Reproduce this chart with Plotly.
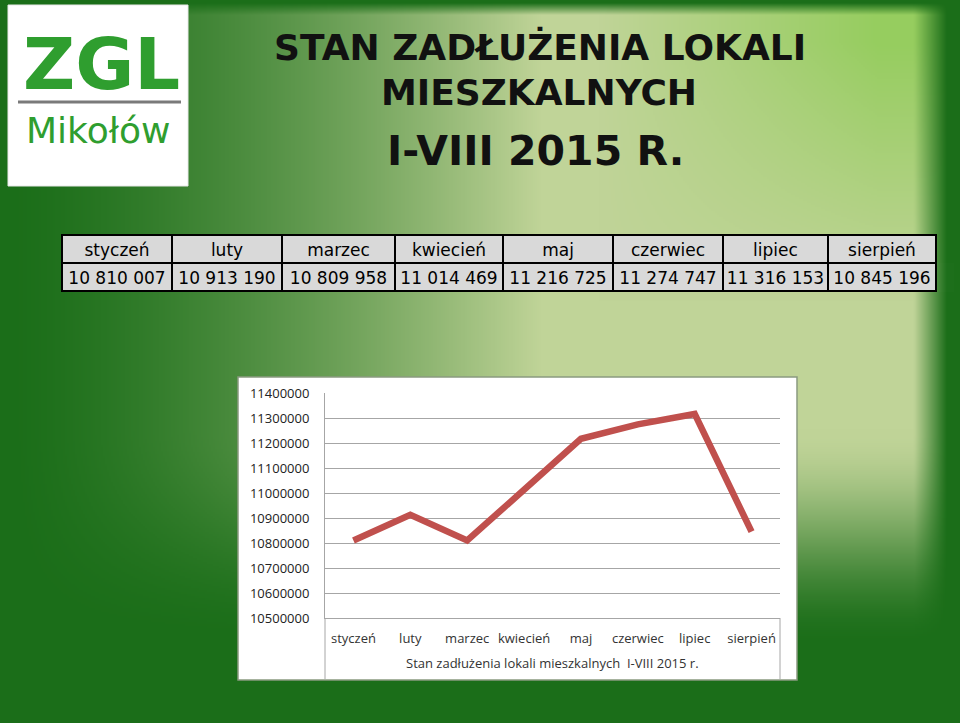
import base64, struct, zlib
import numpy as np
import plotly.graph_objects as go

# ---------------- data ----------------
months = ["styczeń", "luty", "marzec", "kwiecień", "maj", "czerwiec", "lipiec", "sierpień"]
debt = [10810007, 10913190, 10809958, 11014469, 11216725, 11274747, 11316153, 10845196]
debt_labels = ["10 810 007", "10 913 190", "10 809 958", "11 014 469",
               "11 216 725", "11 274 747", "11 316 153", "10 845 196"]
y_ticks = [10500000, 10600000, 10700000, 10800000, 10900000,
           11000000, 11100000, 11200000, 11300000, 11400000]
title_lines = ["STAN ZADŁUŻENIA LOKALI", "MIESZKALNYCH", "I-VIII 2015 R."]
series_name = "Stan zadłużenia lokali mieszkalnych  I-VIII 2015 r."

W, H = 960, 723


def px(x):
    return x / W


def py(y):
    return 1 - y / H


# ---------------- background gradient image ----------------
def make_background(w=480, h=362):
    xs = np.linspace(0, W, w)[None, :]
    ys = np.linspace(0, H, h)[:, None]
    dark = np.array([27, 110, 25], float)
    pale = np.array([192, 212, 152], float)
    lime = np.array([150, 205, 95], float)
    wh = np.clip(xs / 540.0, 0, 1) ** 1.5
    wh = np.where(xs > 915, wh * np.clip((948 - xs) / 33.0, 0, 1), wh)
    wv = np.clip((650 - ys) / 220.0, 0, 1)
    wv = wv * wv * (3 - 2 * wv)
    wv = wv * np.clip((ys - 2) / 12.0, 0, 1)
    t = np.clip((xs - 600) / 280.0, 0, 1) * np.clip(1 - (ys - 40) / 260.0, 0, 1)
    target = pale[None, None, :] * (1 - t[..., None]) + lime[None, None, :] * t[..., None]
    wgt = (wh * wv)[..., None]
    img = dark[None, None, :] * (1 - wgt) + target * wgt
    return np.clip(img, 0, 255).astype(np.uint8)


def png_uri(arr):
    h, w, _ = arr.shape
    raw = b"".join(b"\x00" + arr[i].tobytes() for i in range(h))

    def chunk(tag, data):
        c = struct.pack(">I", len(data)) + tag + data
        return c + struct.pack(">I", zlib.crc32(tag + data) & 0xFFFFFFFF)

    png = (b"\x89PNG\r\n\x1a\n"
           + chunk(b"IHDR", struct.pack(">IIBBBBB", w, h, 8, 2, 0, 0, 0))
           + chunk(b"IDAT", zlib.compress(raw, 9))
           + chunk(b"IEND", b""))
    return "data:image/png;base64," + base64.b64encode(png).decode()


bg_uri = png_uri(make_background())

fig = go.Figure()

# ---------------- line chart ----------------
fig.add_trace(go.Scatter(
    x=months, y=debt, mode="lines",
    line=dict(color="#c0504d", width=6.5),
    hoverinfo="skip", showlegend=False,
))

# ---------------- table ----------------
nb = lambda s: s.replace(" ", "\u00a0")
fig.add_trace(go.Table(
    domain=dict(x=[px(62), px(936)], y=[py(292), py(235)]),
    columnwidth=[110, 110, 113, 108, 110, 110, 105, 108],
    header=dict(values=[nb(m) for m in months], fill_color="#d9d9d9",
                line=dict(color="black", width=1.5),
                font=dict(family="DejaVu Sans", size=17, color="black"),
                align="center", height=28),
    cells=dict(values=[[nb(v)] for v in debt_labels], fill_color="#d9d9d9",
               line=dict(color="black", width=1.5),
               font=dict(family="DejaVu Sans", size=17, color="black"),
               align="center", height=28),
))

grid_col = "#a6a6a6"
x0p, x1p = 325, 780
ytop, ybot, yend = 393, 618, 680

fig.update_layout(
    width=W, height=H,
    margin=dict(l=0, r=0, t=0, b=0, autoexpand=False),
    paper_bgcolor="#1b6e19",
    plot_bgcolor="rgba(0,0,0,0)",
    showlegend=False,
    xaxis=dict(domain=[px(x0p), px(x1p)], type="category",
               range=[-0.5, len(months) - 0.5],
               showgrid=False, zeroline=False, showline=True,
               linecolor=grid_col, linewidth=1,
               ticks="", ticklabelstandoff=8, automargin=False,
               tickfont=dict(family="Open Sans", size=13, color="#333333")),
    yaxis=dict(domain=[py(ybot), py(ytop)], range=[10500000, 11400000],
               tickvals=y_ticks, tickformat="d",
               showgrid=True, gridcolor=grid_col, gridwidth=1,
               zeroline=False, showline=True, linecolor=grid_col, linewidth=1,
               ticks="", ticklabelstandoff=12, automargin=False,
               tickfont=dict(family="Open Sans", size=13, color="#222222")),
    images=[dict(source=bg_uri, xref="paper", yref="paper", x=0, y=1,
                 sizex=1, sizey=1, xanchor="left", yanchor="top",
                 sizing="stretch", layer="below")],
)

shapes = []
shapes.append(dict(type="rect", xref="paper", yref="paper",
                   x0=px(238), x1=px(797), y0=py(680), y1=py(377),
                   fillcolor="white", line=dict(color="#8a9a80", width=1.5),
                   layer="below"))
shapes.append(dict(type="line", xref="paper", yref="paper",
                   x0=px(x0p), x1=px(x0p), y0=py(ybot), y1=py(yend - 1),
                   line=dict(color=grid_col, width=1)))
shapes.append(dict(type="line", xref="paper", yref="paper",
                   x0=px(x1p), x1=px(x1p), y0=py(ybot), y1=py(yend - 1),
                   line=dict(color=grid_col, width=1)))
shapes.append(dict(type="rect", xref="paper", yref="paper",
                   x0=px(8), x1=px(188), y0=py(186), y1=py(5),
                   fillcolor="white", line=dict(color="#e8e8e8", width=1),
                   layer="below"))
shapes.append(dict(type="line", xref="paper", yref="paper",
                   x0=px(18), x1=px(181), y0=py(102), y1=py(102),
                   line=dict(color="#7a7a7a", width=3)))
fig.update_layout(shapes=shapes)

ann = []
ann.append(dict(text="<b>ZGL</b>", x=px(101), y=py(64), xref="paper", yref="paper",
                showarrow=False, xanchor="center", yanchor="middle",
                font=dict(family="DejaVu Sans", size=72, color="#2f9e2f")))
ann.append(dict(text="Mikołów", x=px(98), y=py(130), xref="paper", yref="paper",
                showarrow=False, xanchor="center", yanchor="middle",
                font=dict(family="DejaVu Sans", size=36, color="#2f9e2f")))
title_y = [47, 93, 151]
title_x = [540, 539, 535]
title_sz = [36, 36, 41]
for t, xx, yy, sz in zip(title_lines, title_x, title_y, title_sz):
    ann.append(dict(text="<b>" + t + "</b>", x=px(xx), y=py(yy), xref="paper", yref="paper",
                    showarrow=False, xanchor="center", yanchor="middle",
                    font=dict(family="DejaVu Sans", size=sz, color="#111111")))
ann.append(dict(text=series_name, x=px((x0p + x1p) / 2), y=py(663),
                xref="paper", yref="paper", showarrow=False,
                xanchor="center", yanchor="middle",
                font=dict(family="Open Sans", size=13, color="#333333")))
fig.update_layout(annotations=ann)

fig.write_html("out.html", config={"responsive": False, "displayModeBar": False},
               post_script="document.body.style.margin='0';document.body.style.overflow='hidden';")
